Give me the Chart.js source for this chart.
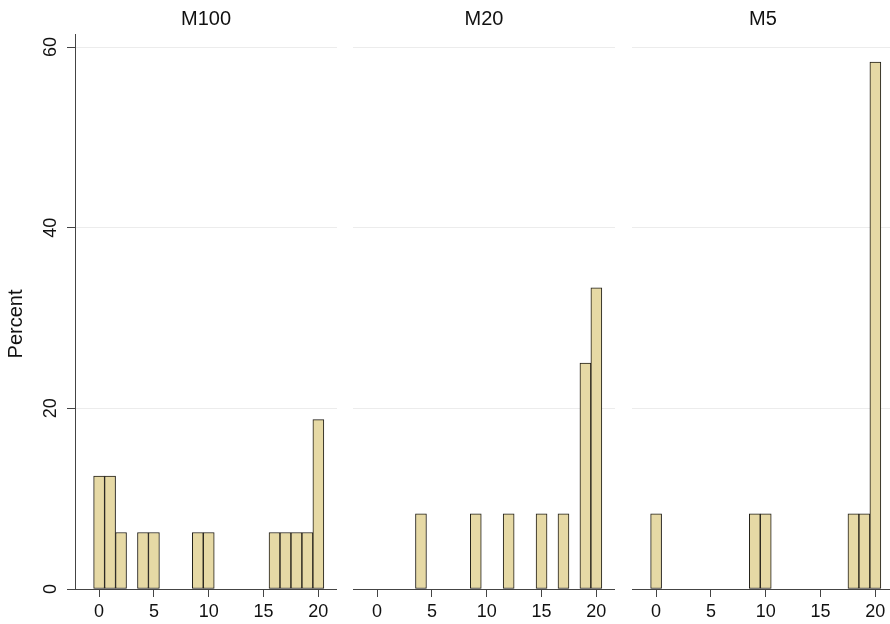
<!DOCTYPE html>
<html>
<head>
<meta charset="utf-8">
<script src="https://cdn.jsdelivr.net/npm/chart.js@4/dist/chart.umd.min.js"></script>
<style>
  html, body { margin: 0; padding: 0; background: #fff; }
  body { width: 890px; height: 624px; position: relative; overflow: hidden; }
  .panel { position: absolute; top: 0; height: 624px; }
</style>
</head>
<body>
<div class="panel" style="left:0;width:337px"><canvas id="p1"></canvas></div>
<div class="panel" style="left:353px;width:262px"><canvas id="p2"></canvas></div>
<div class="panel" style="left:632px;width:262px"><canvas id="p3"></canvas></div>
<script>
// bins on the x axis (value of the score, 0..20)
const xBins = [0, 1, 2, 3, 4, 5, 6, 7, 8, 9, 10, 11, 12, 13, 14, 15, 16, 17, 18, 19, 20];

// percent per bin, one array per panel
const m100Pct = [12.5, 12.5, 6.25, 0, 6.25, 6.25, 0, 0, 0, 6.25, 6.25, 0, 0, 0, 0, 0, 6.25, 6.25, 6.25, 6.25, 18.75];
const m20Pct  = [0, 0, 0, 0, 8.33, 0, 0, 0, 0, 8.33, 0, 0, 8.33, 0, 0, 8.33, 0, 8.33, 0, 25, 33.33];
const m5Pct   = [8.33, 0, 0, 0, 0, 0, 0, 0, 0, 8.33, 8.33, 0, 0, 0, 0, 0, 0, 0, 8.33, 8.33, 58.33];

const panelTitles = ['M100', 'M20', 'M5'];
const yAxisTitle = 'Percent';
const xTicks = [0, 5, 10, 15, 20];
const yTicks = [0, 20, 40, 60];

const FONT = "'Liberation Sans', Arial, Helvetica, sans-serif";
const TEXT = '#111111';
const AXIS = '#444444';

// panel name centred over the plot area, plus the y title on the first panel
const panelTitle = {
  id: 'panelTitle',
  afterDraw(chart, args, opts) {
    const { ctx, chartArea } = chart;
    ctx.save();
    ctx.font = `20px ${FONT}`;
    ctx.fillStyle = TEXT;
    ctx.textAlign = 'center';
    ctx.textBaseline = 'middle';
    ctx.fillText(opts.text, (chartArea.left + chartArea.right) / 2, 19);
    if (opts.yTitle) {
      ctx.translate(16, 324);
      ctx.rotate(-Math.PI / 2);
      ctx.fillText(opts.yTitle, 0, 0);
    }
    ctx.restore();
  }
};

function makePanel(id, title, values, showY) {
  const points = xBins
    .map((x, i) => ({ x: x, y: values[i] }))
    .filter(p => p.y > 0);

  return new Chart(document.getElementById(id), {
    type: 'bar',
    data: {
      datasets: [{
        data: points,
        backgroundColor: '#e6d9a5',
        borderColor: '#1f1c16',
        borderWidth: 1,
        borderSkipped: false,
        barPercentage: 1,
        categoryPercentage: 1
      }]
    },
    options: {
      responsive: true,
      maintainAspectRatio: false,
      animation: false,
      layout: { padding: { top: 34, left: 0, right: 0, bottom: 0 } },
      plugins: {
        legend: { display: false },
        tooltip: { enabled: false },
        panelTitle: { text: title, yTitle: showY ? yAxisTitle : null }
      },
      scales: {
        x: {
          type: 'linear',
          offset: false,
          min: -2.2,
          max: 21.7,
          afterBuildTicks: s => { s.ticks = xTicks.map(v => ({ value: v })); },
          afterFit: s => { s.height = 35; },
          grid: { offset: false, drawOnChartArea: false, drawTicks: true, tickLength: 8, tickColor: AXIS },
          border: { display: true, color: AXIS, width: 1 },
          ticks: { color: TEXT, font: { family: FONT, size: 18 }, padding: 4, maxRotation: 0 }
        },
        y: {
          min: 0,
          max: 61.44,
          afterBuildTicks: s => { s.ticks = yTicks.map(v => ({ value: v })); },
          afterFit: s => { s.width = showY ? 75 : 0; },
          grid: {
            color: ctx => (ctx.tick && ctx.tick.value === 0) ? 'rgba(0,0,0,0)' : '#ececec',
            lineWidth: 1,
            drawTicks: showY,
            tickLength: 8,
            tickColor: AXIS
          },
          border: { display: showY, color: AXIS, width: 1 },
          ticks: {
            display: showY,
            color: TEXT,
            font: { family: FONT, size: 18 },
            minRotation: 90,
            maxRotation: 90,
            crossAlign: 'center',
            padding: 6
          },
          title: { display: false }
        }
      }
    },
    plugins: [panelTitle]
  });
}

makePanel('p1', panelTitles[0], m100Pct, true);
makePanel('p2', panelTitles[1], m20Pct, false);
makePanel('p3', panelTitles[2], m5Pct, false);
</script>
</body>
</html>
